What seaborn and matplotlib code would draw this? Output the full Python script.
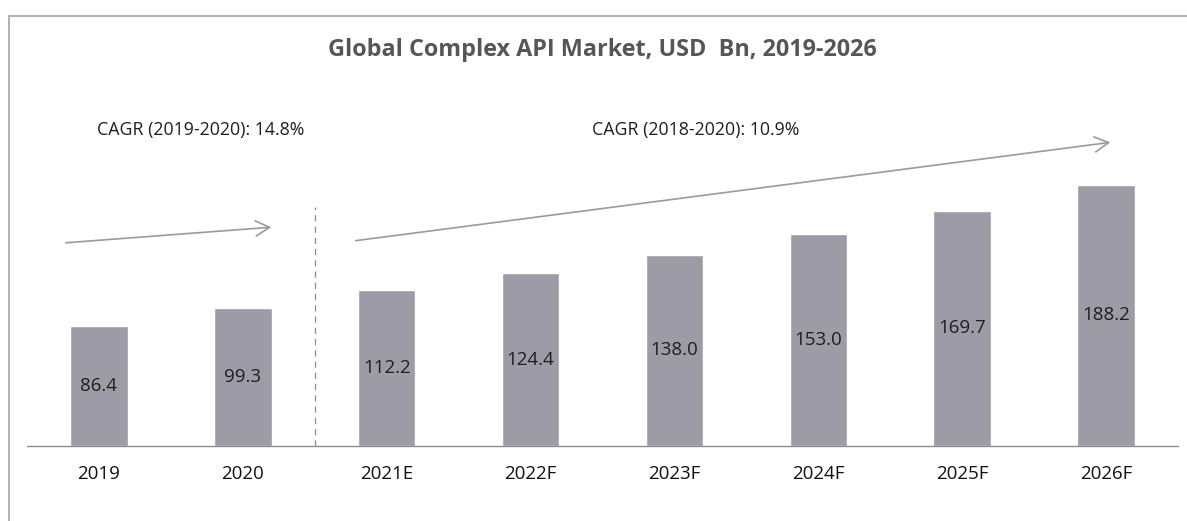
import matplotlib
matplotlib.use("Agg")
import matplotlib.pyplot as plt
from matplotlib.lines import Line2D
from matplotlib.patches import FancyArrowPatch
import seaborn as sns
import pandas as pd

categories = ["2019", "2020", "2021E", "2022F", "2023F", "2024F", "2025F", "2026F"]
values = [86.4, 99.3, 112.2, 124.4, 138.0, 153.0, 169.7, 188.2]
title = "Global Complex API Market, USD  Bn, 2019-2026"
cagr_hist = "CAGR (2019-2020): 14.8%"
cagr_fcst = "CAGR (2018-2020): 10.9%"

sns.set_style("white")
plt.rcParams["font.family"] = ["Open Sans", "DejaVu Sans"]

W, H = 1187, 521
fig = plt.figure(figsize=(W / 100, H / 100), dpi=100)
ax_left, ax_right, ax_bottom, ax_top = 27, 1178, 446, 16
ax = fig.add_axes([ax_left / W, (H - ax_bottom) / H, (ax_right - ax_left) / W, (ax_bottom - ax_top) / H])

df = pd.DataFrame({"year": categories, "value": values})
sns.barplot(data=df, x="year", y="value", color="#9d9ca6", saturation=1, width=0.4, ax=ax)

ax.set_xlim(-0.5, len(categories) - 0.5)
ax.set_ylim(0, 310)
ax.set_xlabel("")
ax.set_ylabel("")
ax.set_yticks([])
for s in ["top", "right", "left"]:
    ax.spines[s].set_visible(False)
ax.spines["bottom"].set_color("#8c8c8c")
ax.spines["bottom"].set_linewidth(1.0)
ax.set_xticks(range(len(categories)))
ax.set_xticklabels(categories, fontsize=13.5, color="#111111")
ax.tick_params(axis="x", which="major", length=0, pad=14)
ax.set_xticks([i - 0.5 for i in range(len(categories) + 1)], minor=True)
ax.tick_params(axis="x", which="minor", length=5, color="#8c8c8c", width=1)

for i, v in enumerate(values):
    ax.text(i, v / 2, f"{v:.1f}", ha="center", va="center", fontsize=13.5, color="#1e1e1e")

# divider between actual and forecast
ax.plot([1.5, 1.5], [0, 172], ls=(0, (5, 4)), color="#8c8c8c", lw=0.9)


def fx(px):
    return px / W


def fy(py):
    return (H - py) / H


arrow_kw = dict(arrowstyle="->,head_length=1.0,head_width=0.55", mutation_scale=10,
                color="#9a9a9a", lw=1.2, transform=fig.transFigure)
fig.add_artist(FancyArrowPatch((fx(63), fy(243)), (fx(274), fy(227)), **arrow_kw))
fig.add_artist(FancyArrowPatch((fx(353), fy(241)), (fx(1113), fy(142)), **arrow_kw))

fig.text(fx(97), fy(130), cagr_hist, ha="left", va="center", fontsize=12.8, color="#1e1e1e")
fig.text(fx(592), fy(130), cagr_fcst, ha="left", va="center", fontsize=12.8, color="#1e1e1e")
fig.text(fx(602), fy(50), title, ha="center", va="center", fontsize=16.8, fontweight="bold", color="#55565b")

# outer frame (top and left)
fig.add_artist(Line2D([fx(9), 1], [fy(16), fy(16)], color="#a6a6a6", lw=1.2, transform=fig.transFigure))
fig.add_artist(Line2D([fx(9), fx(9)], [fy(16), 0], color="#a6a6a6", lw=1.2, transform=fig.transFigure))

fig.savefig("out.png", dpi=100, facecolor="white")
